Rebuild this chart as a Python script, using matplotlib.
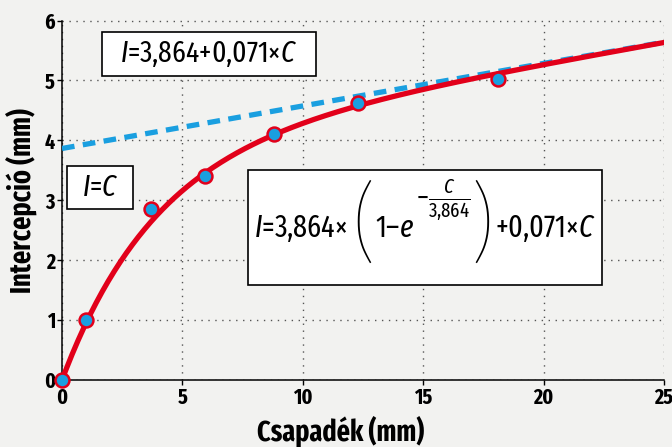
import numpy as np
import matplotlib.pyplot as plt
from matplotlib.patches import Rectangle

# measured points (mm)
csapadek = [0.0, 1.0, 3.7, 5.95, 8.8, 12.3, 18.1]
intercepcio = [0.0, 1.0, 2.86, 3.41, 4.10, 4.62, 5.02]

# fitted parameters
a_par = 3.864
b_par = 0.071

x_ticks = [0, 5, 10, 15, 20, 25]
y_ticks = [0, 1, 2, 3, 4, 5, 6]

RED = "#e2001a"
BLUE = "#1a9fe0"
BG = "#f2f2f0"
FONT = ["Fira Sans Extra Condensed", "Fira Sans Condensed", "DejaVu Sans"]

W, H = 672, 447


def fpos(x, y):
    # figure fraction from pixel position (top-left origin)
    return x / W, 1 - y / H


def add_box(fig, x0, y0, x1, y1):
    r = Rectangle(fpos(x0, y1), (x1 - x0) / W, (y1 - y0) / H,
                  transform=fig.transFigure, fc="white", ec="black", lw=1.2,
                  zorder=5)
    fig.patches.append(r)


def main():
    plt.rcParams["font.family"] = FONT
    plt.rcParams["mathtext.fontset"] = "custom"
    plt.rcParams["mathtext.rm"] = "Fira Sans Extra Condensed"
    plt.rcParams["mathtext.it"] = "Fira Sans Extra Condensed:italic"
    plt.rcParams["mathtext.bf"] = "Fira Sans Extra Condensed:bold"

    fig = plt.figure(figsize=(W / 100, H / 100), dpi=100, facecolor=BG)
    ax = fig.add_axes([62 / W, 1 - 380 / H, 602 / W, 359.5 / H], facecolor=BG)

    xc = np.linspace(0, 25, 300)
    model = a_par * (1 - np.exp(-xc / a_par)) + b_par * xc
    asym = a_par + b_par * xc

    ax.plot(xc, asym, color=BLUE, lw=3.8, dashes=(2.4, 1.6), zorder=3)
    ax.plot(xc, model, color=RED, lw=3.8, zorder=4)
    ax.plot(csapadek, intercepcio, "o", ms=10, mfc=BLUE, mec=RED, mew=1.8,
            zorder=5, clip_on=False)

    ax.set_xlim(0, 25)
    ax.set_ylim(0, 6)
    ax.set_xticks(x_ticks)
    ax.set_yticks(y_ticks)
    ax.tick_params(labelsize=15.5, length=3.6, width=1, pad=1.5)
    for lab in ax.get_xticklabels() + ax.get_yticklabels():
        lab.set_fontweight("bold")
    ax.grid(True, color="#555555", ls=(0, (1, 4)), lw=1)
    for s in ["top", "right"]:
        ax.spines[s].set_visible(False)
    for s in ["left", "bottom"]:
        ax.spines[s].set_linewidth(1.1)

    ax.set_xlabel("Csapadék (mm)", fontsize=20.5, fontweight="bold")
    ax.xaxis.set_label_coords((341 - 62) / 602, -0.1)
    ax.set_ylabel("Intercepció (mm)", fontsize=20.5, fontweight="bold")
    ax.yaxis.set_label_coords(-0.042, 0.5)

    # small boxes
    add_box(fig, 102, 32, 316, 76)
    fig.text(*fpos(209, 54), r"$\mathit{I}$=3,864+0,071×$\mathit{C}$",
             fontsize=21.5, ha="center", va="center", zorder=6)
    add_box(fig, 67, 166, 133, 209)
    fig.text(*fpos(100, 188), r"$\mathit{I}$=$\mathit{C}$",
             fontsize=21.5, ha="center", va="center", zorder=6)

    # big formula box, pieces chained left to right
    add_box(fig, 248, 170, 602, 285)
    parts = [
        (r"$\mathit{I}$=3,864×", 22, "main", 5),
        ("(", 62, "paren", 0),
        (r"1–$\mathit{e}$", 22, "main", 1),
        (r"$-\frac{\mathit{C}}{3{,}864}$", 21, "sup", 0),
        (")", 62, "paren", 2),
        (r"+0,071×$\mathit{C}$", 22, "main", 0),
    ]
    renderer = fig.canvas.get_renderer()
    texts = []
    widths = []
    for s, size, kind, gap in parts:
        if kind == "main":
            t = fig.text(0, 1 - 237 / H, s, fontsize=size, ha="left",
                         va="baseline", zorder=6)
        elif kind == "paren":
            t = fig.text(0, 1 - 227 / H, s, fontsize=size, ha="left",
                         va="center", fontweight=200, zorder=6)
        else:
            t = fig.text(0, 1 - 200 / H, s, fontsize=size, ha="left",
                         va="center", zorder=6)
        texts.append(t)
        widths.append(t.get_window_extent(renderer).width + gap)
    x = (248 + 602) / 2 - sum(widths) / 2
    for t, w in zip(texts, widths):
        t.set_x(x / W)
        x += w

    fig.savefig("out.png", dpi=100, facecolor=BG)


if __name__ == "__main__":
    main()
